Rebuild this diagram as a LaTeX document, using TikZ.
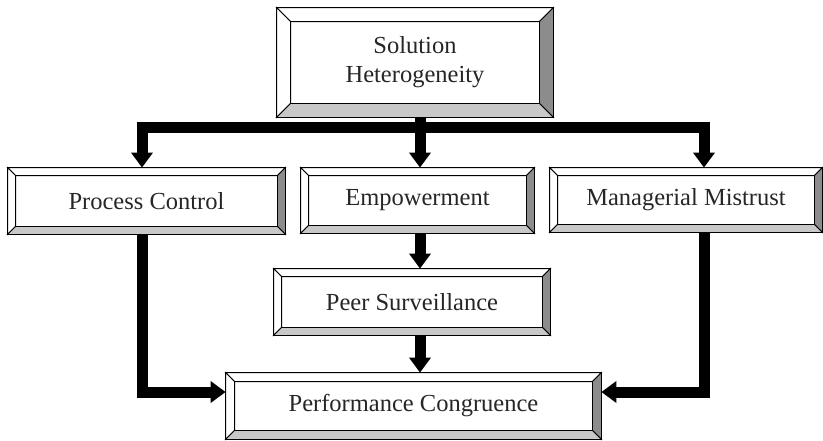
\documentclass[tikz,border=0pt]{standalone}
\usepackage{fontspec}
\setmainfont{Liberation Serif}
\usetikzlibrary{arrows.meta,calc}

\definecolor{bevellight}{RGB}{200,200,200}
\definecolor{beveldark}{RGB}{140,140,140}

\tikzset{
  box/.style={draw=black, line width=0.8pt, inner sep=0pt, align=center,
    font=\fontsize{24.5}{29}\selectfont, text=black!85},
  flow/.style={line width=11pt, line join=miter,
    -{Triangle[length=15pt,width=21pt]}},
  flowboth/.style={line width=11pt, line join=miter,
    {Triangle[length=15pt,width=21pt]}-{Triangle[length=15pt,width=21pt]}}
}

% bevelled frame around a node: light top/left, shaded right/bottom
\newcommand\bevelframe[2]{%
  \coordinate (nw) at (#1.north west);
  \coordinate (ne) at (#1.north east);
  \coordinate (se) at (#1.south east);
  \coordinate (sw) at (#1.south west);
  \coordinate (inw) at ($(nw)+(#2,#2)$);
  \coordinate (ine) at ($(ne)+(-#2,#2)$);
  \coordinate (ise) at ($(se)+(-#2,-#2)$);
  \coordinate (isw) at ($(sw)+(#2,-#2)$);
  \filldraw[fill=white, line width=0.8pt] (nw) -- (ne) -- (ine) -- (inw) -- cycle;
  \filldraw[fill=white, line width=0.8pt] (nw) -- (inw) -- (isw) -- (sw) -- cycle;
  \filldraw[fill=beveldark, line width=0.8pt] (ne) -- (se) -- (ise) -- (ine) -- cycle;
  \filldraw[fill=bevellight, line width=0.8pt] (sw) -- (isw) -- (ise) -- (se) -- cycle;
  \draw[line width=1.4pt] (inw) rectangle (ise);
  \draw[line width=0.8pt] (nw) rectangle (se);
}

\begin{document}
\begin{tikzpicture}[x=1pt,y=-1pt]
  \useasboundingbox (0,0) rectangle (823,440);

  % boxes (outer frames)
  \node[box, minimum width=276pt, minimum height=109pt] (sol) at (415,62.5)
    {Solution\\Heterogeneity};
  \node[box, minimum width=277pt, minimum height=66pt] (pc) at (146.5,201)
    {Process Control};
  \node[box, minimum width=233pt, minimum height=65pt] (emp) at (417.5,200.5)
    {Empowerment};
  \node[box, minimum width=272pt, minimum height=64pt] (mm) at (686,200)
    {Managerial Mistrust};
  \node[box, minimum width=276pt, minimum height=66pt] (peer) at (412,302)
    {Peer Surveillance};
  \node[box, minimum width=375pt, minimum height=66pt] (perf) at (413.5,406)
    {Performance Congruence};

  \bevelframe{sol}{14}
  \bevelframe{pc}{8}
  \bevelframe{emp}{8}
  \bevelframe{mm}{8}
  \bevelframe{peer}{8}
  \bevelframe{perf}{9}

  % routing points
  \coordinate (busL) at (142,127.5);
  \coordinate (busR) at (704,127.5);
  \coordinate (spine) at (420,127.5);
  \coordinate (lc) at (142,392);
  \coordinate (rc) at (704,392);

  % connectors
  \draw[flowboth] (busL |- pc.north) -- (busL) -- (busR) -- (busR |- mm.north);
  \draw[flow] (sol.south -| spine) -- (spine |- emp.north);
  \draw[flow] (emp.south -| spine) -- (spine |- peer.north);
  \draw[flow] (peer.south -| spine) -- (spine |- perf.north);
  \draw[flow] (pc.south -| lc) -- (lc) -- (lc -| perf.west);
  \draw[flow] (mm.south -| rc) -- (rc) -- (rc -| perf.east);
\end{tikzpicture}
\end{document}
